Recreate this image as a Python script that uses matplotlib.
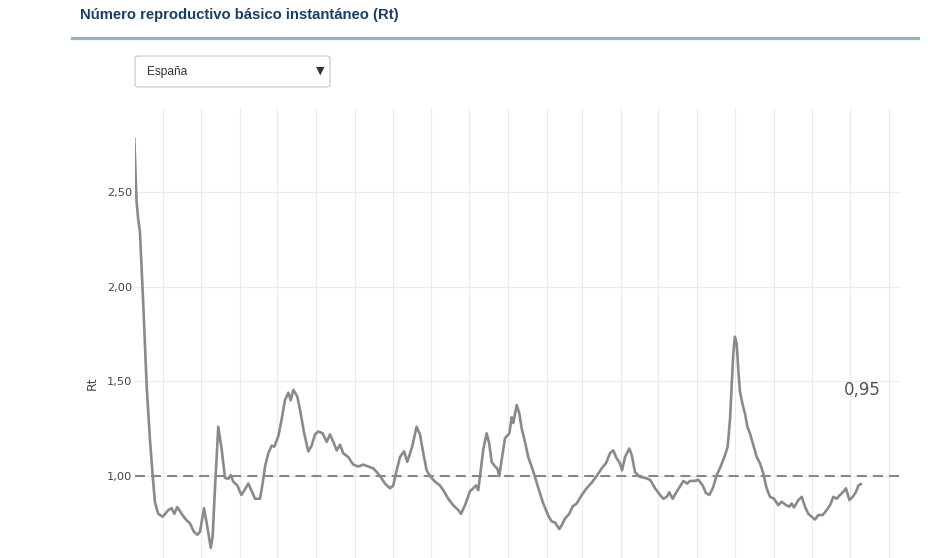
import matplotlib
matplotlib.use("Agg")
import matplotlib.pyplot as plt
import matplotlib.dates as mdates
from matplotlib.patches import FancyBboxPatch
from matplotlib.lines import Line2D
from datetime import datetime
import numpy as np

title = "Número reproductivo básico instantáneo (Rt)"
region = "España"
y_label = "Rt"
last_label = "0,95"
start_date = datetime(2020, 3, 9)

# days since start_date
days = [0, 1.8, 3.2, 4.5, 7.2, 9.9, 12.5, 14.7, 16.5, 19.1, 22.7, 27.1, 29.8, 31.9, 34.3,
        37.8, 41.2, 44.4, 47.6, 50.3, 52.4, 55.6, 57.8, 61, 62.5, 64.4, 67, 69.7, 72.4, 75,
        76.9, 79, 82.2, 85.4, 88.3, 91, 93.7, 96.3, 100.3, 102.4, 104.3, 106.9, 109.6, 111.7,
        114.9, 117.6, 120.2, 122.9, 124.8, 126.9, 130, 132.2, 135.4, 138.8, 141.5, 144.2,
        146.8, 150.3, 153.5, 156.1, 158.8, 161.5, 164.1, 166.7, 170.7, 174.7, 178.7, 182.7,
        186.7, 190.7, 194.2, 196, 200, 204, 206.6, 209.3, 212, 215.2, 217.8, 221.7, 225.2,
        227.9, 230.6, 233.2, 235.9, 239.9, 243.9, 246.5, 250.5, 254.5, 258.5, 260.6, 263.8,
        267.8, 270.4, 272.6, 274.4, 276.4, 278.4, 281.1, 283.2, 285.1, 287.8, 289.6, 291.2,
        293.1, 295.8, 299.2, 301.1, 302.4, 305.1, 307.2, 309.1, 311.7, 314.3, 317, 319.7,
        322.4, 326.3, 330.3, 333, 335.6, 339.1, 341, 343.6, 347, 349.8, 353, 357, 360.9,
        364.9, 368.9, 372.9, 376.3, 379.5, 382.1, 384.8, 387.5, 389.1, 391.5, 394.9, 396.9,
        399.5, 403.5, 407.5, 411.5, 415.5, 419.4, 422.1, 424.8, 426.8, 429.5, 432.7, 435.9,
        438, 441.2, 443.3, 447.3, 450, 453.5, 456.1, 458.8, 461.5, 464.7, 467.8, 471.3,
        473.4, 475.3, 476.6, 477.9, 479.2, 480.6, 481.9, 483.2, 485.4, 487.2, 489.1, 491.2,
        493.8, 496.6, 499.2, 501.8, 504.5, 507.2, 510.4, 513.8, 516.5, 520, 522.6, 524.5,
        526.3, 529.8, 532.5, 535.1, 537.8, 540.5, 543.1, 545.7, 549.3, 552.4, 555.1, 557.7,
        560.4, 563, 565.7, 567.8, 570.5, 573.2, 575.8, 577.7, 579.6]

rt = [2.78, 2.45, 2.35, 2.29, 1.90, 1.47, 1.19, 1.00, 0.86, 0.80, 0.785, 0.82, 0.83, 0.80, 0.836,
      0.80, 0.77, 0.75, 0.705, 0.69, 0.705, 0.83, 0.75, 0.62, 0.68, 0.94, 1.26, 1.14, 0.99, 0.985,
      1.005, 0.97, 0.95, 0.90, 0.93, 0.96, 0.92, 0.88, 0.88, 0.96, 1.05, 1.12, 1.16, 1.155,
      1.21, 1.30, 1.40, 1.44, 1.40, 1.455, 1.42, 1.35, 1.23, 1.13, 1.16, 1.22,
      1.235, 1.225, 1.18, 1.22, 1.18, 1.135, 1.165, 1.12, 1.10, 1.06, 1.05, 1.06,
      1.05, 1.04, 1.015, 1.00, 0.96, 0.935, 0.95, 1.03, 1.10, 1.13, 1.075, 1.155, 1.26,
      1.22, 1.12, 1.03, 1.00, 0.97, 0.95, 0.925, 0.88, 0.845, 0.82, 0.80, 0.845,
      0.92, 0.935, 0.95, 0.925, 1.03, 1.14, 1.225, 1.17, 1.075, 1.05, 1.04, 1.00,
      1.085, 1.20, 1.225, 1.31, 1.28, 1.375, 1.33, 1.25, 1.18, 1.10, 1.05, 0.995,
      0.935, 0.855, 0.79, 0.76, 0.755, 0.72, 0.74, 0.775, 0.80, 0.84, 0.855, 0.90, 0.935,
      0.965, 1.00, 1.04, 1.067, 1.12, 1.135, 1.094, 1.067, 1.03, 1.10, 1.145, 1.11,
      1.02, 0.995, 0.99, 0.98, 0.935, 0.90, 0.88, 0.89, 0.914, 0.88, 0.917, 0.95,
      0.974, 0.96, 0.974, 0.974, 0.98, 0.95, 0.91, 0.90, 0.935, 1.005, 1.05, 1.11,
      1.155, 1.30, 1.47, 1.65, 1.735, 1.70, 1.56, 1.445, 1.375, 1.33, 1.26, 1.225,
      1.165, 1.10, 1.067, 1.014, 0.935, 0.89, 0.88, 0.846, 0.864, 0.846, 0.838, 0.855,
      0.834, 0.873, 0.89, 0.838, 0.80, 0.785, 0.77, 0.794, 0.794, 0.82, 0.846, 0.89,
      0.88, 0.90, 0.917, 0.935, 0.873, 0.89, 0.917, 0.95, 0.957]

y_ticks = [1.0, 1.5, 2.0, 2.5]
y_tick_labels = ["1,00", "1,50", "2,00", "2,50"]
threshold = 1.0

W, H = 940, 558
fig = plt.figure(figsize=(W / 100, H / 100), dpi=100)
fig.patch.set_facecolor("white")

def fx(px):
    return px / W

def fy(py):
    return 1 - py / H

# Title and rule
fig.text(fx(80), fy(15), title, fontsize=10.7, fontweight="bold", color="#1b3f63",
         family="Liberation Sans", va="center", ha="left")
fig.add_artist(Line2D([fx(72), fx(918)], [fy(38), fy(38)], color="#90b4c2", lw=2.3,
                      transform=fig.transFigure))

# Dropdown box
box = FancyBboxPatch((fx(135), fy(87)), fx(330) - fx(135), fy(56) - fy(87),
                     boxstyle="round,pad=0,rounding_size=0.004", transform=fig.transFigure,
                     facecolor="white", edgecolor="#cccccc", lw=0.9)
fig.add_artist(box)
fig.text(fx(147), fy(71.5), region, fontsize=8.6, color="#333333", family="Liberation Sans",
         va="center", ha="left")
fig.text(fx(320), fy(71), "▼", fontsize=8, color="#333333", family="DejaVu Sans",
         va="center", ha="center")

# Plot area
top_px, bot_px = 108, 558
left_px, right_px = 135, 900
ax = fig.add_axes([fx(left_px), fy(bot_px), fx(right_px) - fx(left_px), (bot_px - top_px) / H])
px_per_unit = 189.4
y0 = 1 + (476 - bot_px) / px_per_unit
y1 = 1 + (476 - top_px) / px_per_unit
ax.set_ylim(y0, y1)

x0 = mdates.date2num(start_date)
x = x0 + np.array(days, dtype=float)
px_per_day = 1.2534
ax.set_xlim(x0 + (left_px - 134.3) / px_per_day, x0 + (right_px - 134.3) / px_per_day)

for s in ax.spines.values():
    s.set_visible(False)
ax.set_facecolor("white")
ax.xaxis.set_major_locator(mdates.MonthLocator())
ax.tick_params(axis="x", length=0, labelbottom=False)
ax.set_yticks(y_ticks)
ax.set_yticklabels(y_tick_labels)
ax.tick_params(axis="y", length=0, pad=2, labelsize=8.2, labelcolor="#444444")
ax.grid(True, color="#ebebeb", lw=0.8)
ax.set_axisbelow(True)

ax.axhline(threshold, color="#888888", lw=1.5, linestyle=(0, (4.8, 2.9)), zorder=2)
ax.plot(x, rt, color="#8a8a8a", lw=1.9, zorder=3, solid_joinstyle="round")

ax.set_ylabel(y_label, fontsize=9, color="#444444")
ax.yaxis.set_label_coords(-(135 - 99) / (right_px - left_px), (bot_px - 383) / (bot_px - top_px))

fig.text(fx(862.7), fy(390), last_label, fontsize=12, color="#555555", family="DejaVu Sans",
         va="center", ha="center")

fig.savefig("out.png", dpi=100, facecolor="white")
